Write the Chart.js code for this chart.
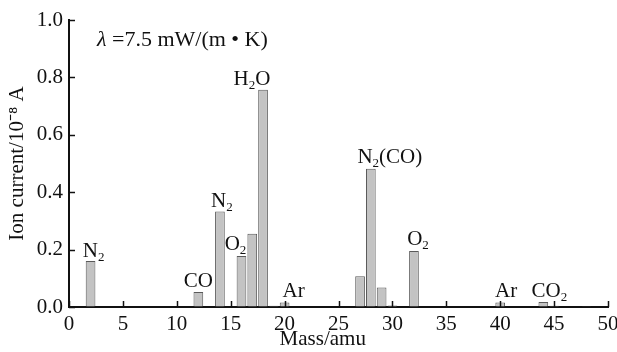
<!DOCTYPE html>
<html lang="en">
<head>
    <meta charset="UTF-8" />
    <title>Ion current vs mass</title>
    <style>
        html, body { margin: 0; padding: 0; background: #fff; }
    </style>
</head>
<body>
    <canvas id="massChart" width="617" height="352"></canvas>

    <script src="https://cdn.jsdelivr.net/npm/chart.js@4.4.0/dist/chart.umd.min.js"></script>
    <script>
        // data
        const masses = [2, 12, 14, 16, 17, 18, 19, 20, 27, 28, 29, 30, 32, 40, 44, 45, 46, 48];
        const ionCurrent = [0.160, 0.052, 0.333, 0.178, 0.255, 0.757, 0.004, 0.016, 0.107, 0.482, 0.068, 0.005, 0.195, 0.016, 0.017, 0.004, 0.002, 0.003];

        // peak names ("_2" = subscript 2) and the mass they belong to
        const peakNames = ["N_2", "CO", "N_2", "O_2", "H_2O", "Ar", "N_2(CO)", "O_2", "Ar", "CO_2"];
        const peakMasses = [2, 12, 14, 16, 18, 20, 28, 32, 40, 44];

        const xTicks = [0, 5, 10, 15, 20, 25, 30, 35, 40, 45, 50];
        const yTicks = [0, 0.2, 0.4, 0.6, 0.8, 1.0];

        const serif = "'Liberation Serif', 'Times New Roman', serif";

        // label nudges in pixels: [dx, gap above bar]
        const nudge = {
            2: [3, 4], 12: [0, 5], 14: [2, 4], 16: [-6, 6], 18: [-11, 5],
            20: [9, 5], 28: [19, 6], 32: [4, 6], 40: [6, 5], 44: [6, 5]
        };

        function drawChem(ctx, text, cx, baseline, size) {
            const parts = [];
            for (let i = 0; i < text.length; i++) {
                if (text[i] === "_") {
                    parts.push({ t: text[i + 1], sub: true });
                    i++;
                } else {
                    parts.push({ t: text[i], sub: false });
                }
            }
            const subSize = Math.round(size * 0.62);
            let total = 0;
            parts.forEach(p => {
                ctx.font = (p.sub ? subSize : size) + "px " + serif;
                p.w = ctx.measureText(p.t).width;
                total += p.w;
            });
            let x = cx - total / 2;
            ctx.textAlign = "left";
            ctx.textBaseline = "alphabetic";
            parts.forEach(p => {
                ctx.font = (p.sub ? subSize : size) + "px " + serif;
                ctx.fillText(p.t, x, p.sub ? baseline + 4 : baseline);
                x += p.w;
            });
        }

        const decorations = {
            id: "decorations",
            afterDatasetsDraw(chart) {
                const ctx = chart.ctx;
                const xs = chart.scales.x;
                const ys = chart.scales.y;
                const area = chart.chartArea;
                ctx.save();
                ctx.strokeStyle = "#111";
                ctx.lineWidth = 1.5;

                // inward tick marks
                xTicks.forEach(v => {
                    const px = Math.round(xs.getPixelForValue(v)) + 0.5;
                    ctx.beginPath();
                    ctx.moveTo(px, area.bottom);
                    ctx.lineTo(px, area.bottom - 6);
                    ctx.stroke();
                });
                yTicks.forEach(v => {
                    const py = Math.round(ys.getPixelForValue(v)) + 0.5;
                    ctx.beginPath();
                    ctx.moveTo(area.left, py);
                    ctx.lineTo(area.left + 6, py);
                    ctx.stroke();
                });

                // peak labels
                ctx.fillStyle = "#111";
                peakNames.forEach((name, i) => {
                    const m = peakMasses[i];
                    const val = ionCurrent[masses.indexOf(m)];
                    const n = nudge[m] || [0, 5];
                    const cx = xs.getPixelForValue(m) + n[0];
                    const base = ys.getPixelForValue(val) - n[1];
                    drawChem(ctx, name, cx, base, 21);
                });

                // condition note
                ctx.textAlign = "left";
                ctx.textBaseline = "alphabetic";
                ctx.font = "italic 22px " + serif;
                ctx.fillText("\u03bb", 97, 46);
                const lw = ctx.measureText("\u03bb").width;
                ctx.font = "22px " + serif;
                ctx.fillText(" =7.5 mW/(m \u2022 K)", 97 + lw, 46);
                ctx.restore();
            }
        };

        const ctx = document.getElementById("massChart").getContext("2d");
        new Chart(ctx, {
            type: "bar",
            data: {
                datasets: [{
                    data: masses.map((m, i) => ({ x: m, y: ionCurrent[i] })),
                    backgroundColor: "#c3c3c3",
                    borderColor: "#5a5a5a",
                    borderWidth: 1,
                    barPercentage: 1.0,
                    categoryPercentage: 0.9
                }]
            },
            options: {
                responsive: false,
                animation: false,
                layout: { padding: { top: 20, right: 9, left: 0, bottom: 0 } },
                plugins: {
                    legend: { display: false },
                    tooltip: { enabled: false }
                },
                scales: {
                    x: {
                        type: "linear",
                        min: 0,
                        max: 50,
                        offset: false,
                        grid: { display: true, drawOnChartArea: false, drawTicks: false, offset: false },
                        border: { display: true, color: "#111", width: 2 },
                        afterBuildTicks: s => { s.ticks = xTicks.map(v => ({ value: v })); },
                        afterFit: s => { s.height = 45; s.paddingLeft = 0; s.paddingRight = 0; },
                        ticks: {
                            color: "#111",
                            padding: 5,
                            maxRotation: 0,
                            font: { family: serif, size: 21 }
                        },
                        title: {
                            display: true,
                            // trailing spaces pull the centred title left like the original
                            text: "Mass/amu      ",
                            color: "#111",
                            padding: { top: -6, bottom: 0 },
                            font: { family: serif, size: 21 }
                        }
                    },
                    y: {
                        min: 0,
                        max: 1.0,
                        grid: { display: true, drawOnChartArea: false, drawTicks: false },
                        border: { display: true, color: "#111", width: 2 },
                        afterBuildTicks: s => { s.ticks = yTicks.map(v => ({ value: v })); },
                        afterFit: s => { s.width = 69; },
                        ticks: {
                            color: "#111",
                            padding: 6,
                            font: { family: serif, size: 21 },
                            callback: v => v.toFixed(1)
                        },
                        title: {
                            display: true,
                            text: "Ion current/10\u207b\u2078 A",
                            color: "#111",
                            padding: { top: 5, bottom: 0 },
                            font: { family: serif, size: 21 }
                        }
                    }
                }
            },
            plugins: [decorations]
        });
    </script>
</body>
</html>
